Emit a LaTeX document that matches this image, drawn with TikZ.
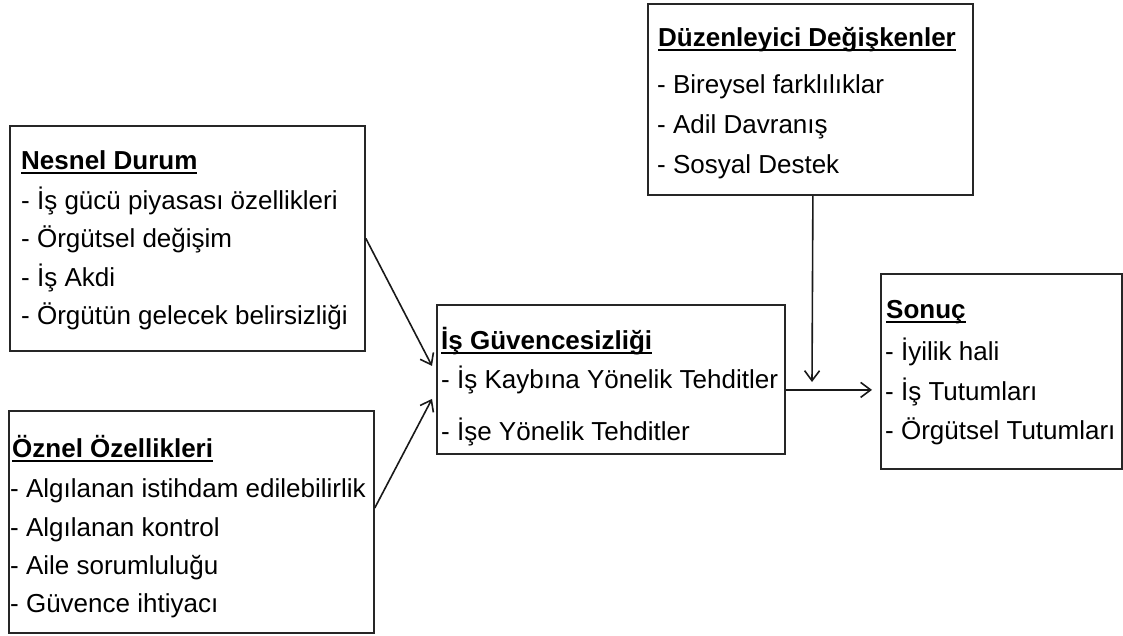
\documentclass[tikz,border=0pt]{standalone}
\usepackage{fontspec}
\setmainfont{Liberation Sans}
\usetikzlibrary{arrows.meta}

% bold heading with a flat underline a little below the baseline
\newcommand\hdr[1]{\setbox0\hbox{\bfseries #1}\rlap{\rule[-4.5pt]{\wd0}{1.7pt}}\box0}

\tikzset{
  panel/.style={draw=black!85, line width=1.8pt, anchor=north west, inner sep=0pt},
  txt/.style={anchor=base west, inner sep=0pt, font=\fontsize{26}{31}\selectfont},
  link/.style={draw=black!90, line width=1.6pt, -{Straight Barb[length=10pt,width=15pt]}}
}

\begin{document}
\begin{tikzpicture}[x=1pt, y=-1pt]
\useasboundingbox (0,0) rectangle (1123,635);

% frames
\node[panel, minimum width=355pt, minimum height=225pt] (nes) at (9,125) {};
\node[panel, minimum width=365pt, minimum height=222pt] (ozn) at (8,410) {};
\node[panel, minimum width=348pt, minimum height=149pt] (mid) at (436,304) {};
\node[panel, minimum width=325pt, minimum height=191pt] (duz) at (647,3) {};
\node[panel, minimum width=241pt, minimum height=195pt] (son) at (880,273) {};

% Nesnel Durum
\node[txt] (nes0) at (21,169) {\hdr{Nesnel Durum}};
\node[txt] (nes1) at (21,209) {- İş gücü piyasası özellikleri};
\node[txt] (nes2) at (21,247.5) {- Örgütsel değişim};
\node[txt] (nes3) at (21,286) {- İş Akdi};
\node[txt] (nes4) at (21,324.5) {- Örgütün gelecek belirsizliği};

% Öznel Özellikleri
\node[txt] (ozn0) at (12,457) {\hdr{Öznel Özellikleri}};
\node[txt] (ozn1) at (10,497) {- Algılanan istihdam edilebilirlik};
\node[txt] (ozn2) at (10,536) {- Algılanan kontrol};
\node[txt] (ozn3) at (10,574) {- Aile sorumluluğu};
\node[txt] (ozn4) at (10,612) {- Güvence ihtiyacı};

% İş Güvencesizliği
\node[txt] (mid0) at (441,349) {\hdr{İş Güvencesizliği}};
\node[txt] (mid1) at (441,388) {- İş Kaybına Yönelik Tehditler};
\node[txt] (mid2) at (441,440) {- İşe Yönelik Tehditler};

% Düzenleyici Değişkenler
\node[txt] (duz0) at (658,46) {\hdr{Düzenleyici Değişkenler}};
\node[txt] (duz1) at (657,93) {- Bireysel farklılıklar};
\node[txt] (duz2) at (657,133) {- Adil Davranış};
\node[txt] (duz3) at (657,173) {- Sosyal Destek};

% Sonuç
\node[txt] (son0) at (886,318) {\hdr{Sonuç}};
\node[txt] (son1) at (885,360) {- İyilik hali};
\node[txt] (son2) at (885,400) {- İş Tutumları};
\node[txt] (son3) at (885,439) {- Örgütsel Tutumları};

% connectors
\coordinate (meet) at (812,382);
\draw[link] (nes.east) -- ([xshift=-4pt,yshift=13.5pt]mid.west);
\draw[link] ([yshift=14pt]ozn.east) -- ([xshift=-4pt,yshift=-19.5pt]mid.west);
\draw[link] ([xshift=2.5pt]duz.south) -- (meet);
\draw[link] ([yshift=-10.5pt]mid.east) -- ([xshift=-8pt,yshift=-18.5pt]son.west);
\end{tikzpicture}
\end{document}
